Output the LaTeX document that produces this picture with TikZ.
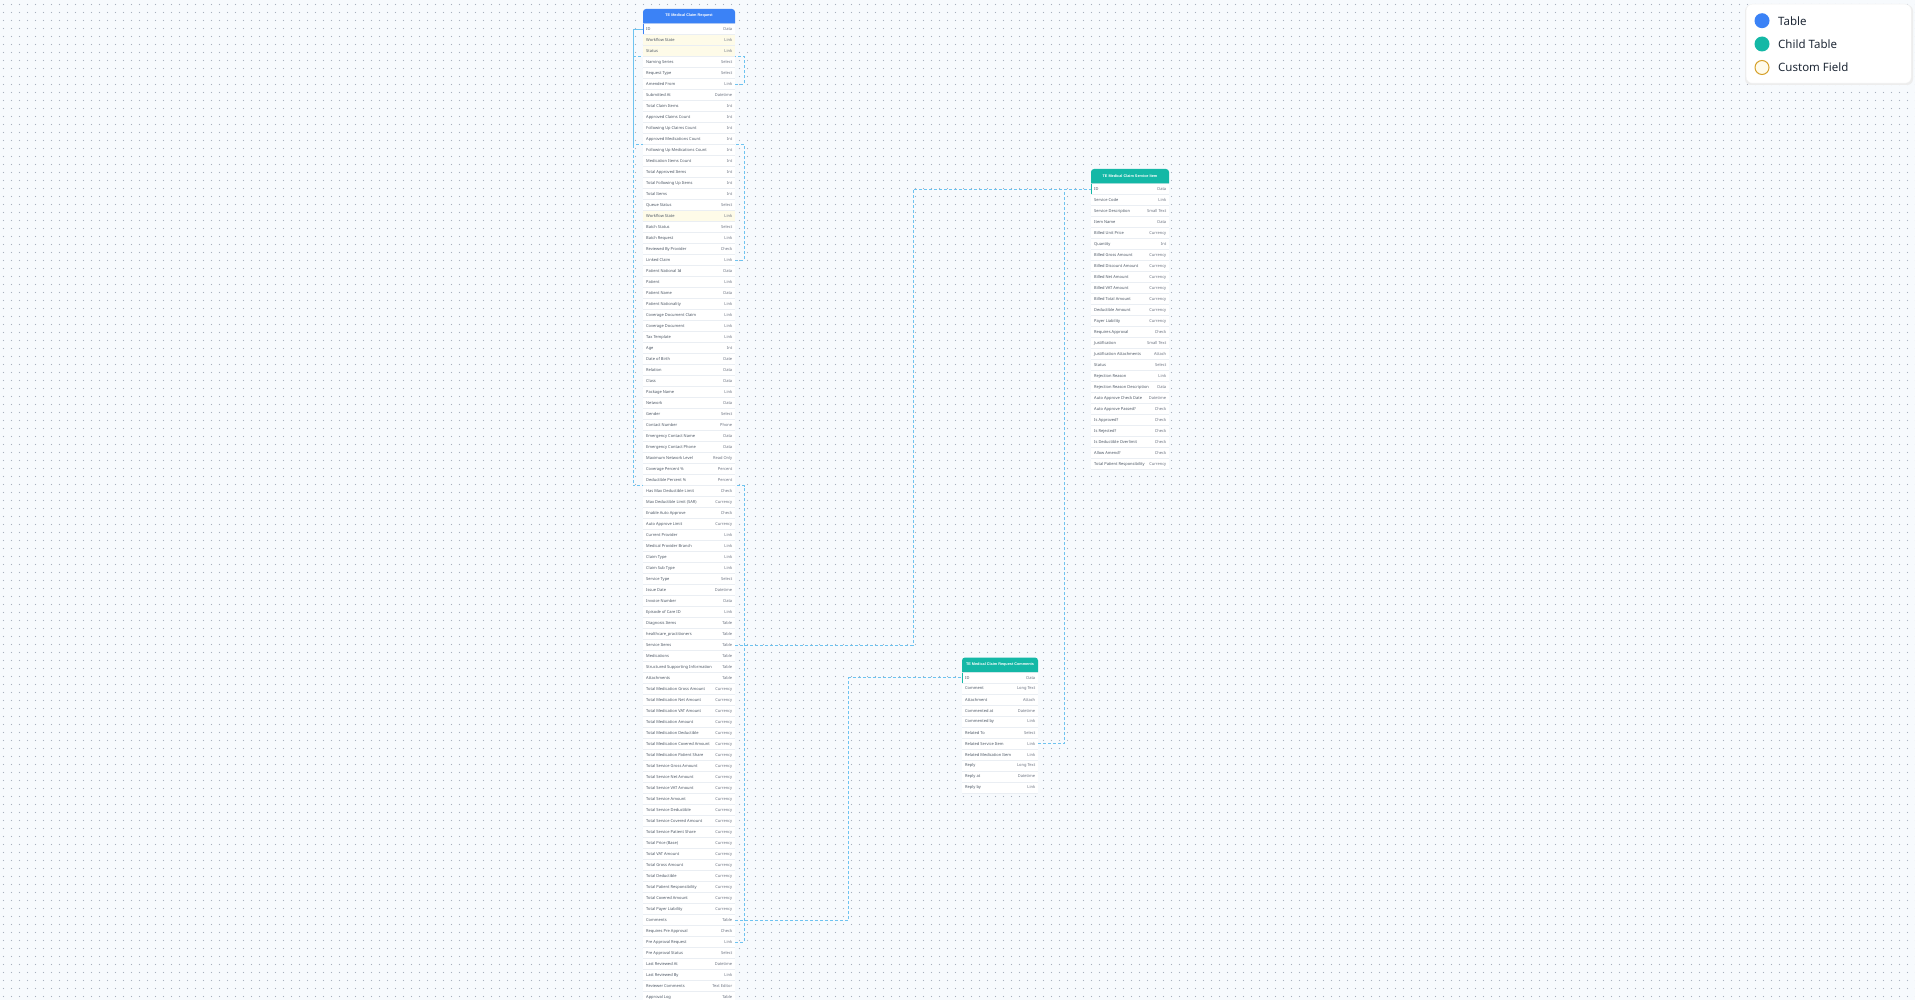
\documentclass[tikz,border=0pt]{standalone}
\usepackage{fontspec}
\setmainfont{Noto Sans}
\newfontfamily\hdrfont{Liberation Sans}
\usetikzlibrary{calc,patterns.meta}
\definecolor{bgcol}{RGB}{247,250,253}
\definecolor{dotcol}{RGB}{168,177,190}
\definecolor{tblue}{RGB}{59,130,246}
\definecolor{tteal}{RGB}{20,184,166}
\definecolor{hlrow}{RGB}{254,251,232}
\definecolor{sepcol}{RGB}{234,238,243}
\definecolor{namecol}{RGB}{75,85,99}
\definecolor{typecol}{RGB}{107,114,128}
\definecolor{edgecol}{RGB}{110,195,240}
\definecolor{amber}{RGB}{214,160,40}
\definecolor{cfill}{RGB}{255,251,235}
\definecolor{legtext}{RGB}{31,41,55}
\tikzdeclarepattern{name=rfdots, type=colored,
  bounding box={(0pt,0pt) and (7.5pt,7.5pt)}, tile size={(7.5pt,7.5pt)},
  code={\fill[dotcol] (3.75pt,3.75pt) circle (0.62pt);}}
\pgfdeclarelayer{bgl}
\pgfdeclarelayer{edgel}
\pgfsetlayers{bgl,edgel,main}
\tikzset{
  rowbox/.style={draw=none, inner xsep=3pt, inner ysep=0pt, minimum height=10pt,
    font=\fontsize{4.0}{5}\selectfont, text=namecol, anchor=north west},
  hdrtext/.style={inner sep=0pt, font=\hdrfont\fontsize{3.8}{5}\selectfont\bfseries, text=white},
  edge/.style={draw=edgecol, line width=0.9pt, dash pattern=on 3pt off 2pt},
  legdot/.style={circle, minimum size=15pt, inner sep=0pt},
  legtxt/.style={anchor=west, inner sep=0pt, font=\fontsize{11.5}{13}\selectfont, text=legtext}
}
% #1 prefix, #2 x, #3 y0, #4 width, #5 count, #6 header colour, #7 title, #8 list
\newcommand\drawerdtable[8]{%
  \fill[sepcol] (#2,{#3+14}) rectangle ({#2+#4},{#3+15+#5*11});
  \fill[#6] (#2,{#3+14.5}) [rounded corners=3pt] -- (#2,#3) -- ({#2+#4},#3) [sharp corners] -- ({#2+#4},{#3+14.5}) -- cycle;
  \node[hdrtext] (#1h) at ({#2+#4/2},{#3+7}) {#7};
  \foreach \fname/\ftype [count=\i] in {#8} {
    \def\rowfill{white}%
    \if m#1
      \ifnum\i=2 \def\rowfill{hlrow}\fi
      \ifnum\i=3 \def\rowfill{hlrow}\fi
      \ifnum\i=18 \def\rowfill{hlrow}\fi
    \fi
    \node[rowbox, minimum width=#4pt, fill=\rowfill] (#1\i) at (#2,{#3+15+(\i-1)*11})
      {\hbox to \dimexpr#4pt-6pt\relax{\fname\hfill\textcolor{typecol}{\ftype}}};
  }
  \draw[#6, line width=1pt] ($(#11.north west)+(0.5,0)$) -- ($(#11.south west)+(0.5,0)$);
}
\begin{document}
\begin{tikzpicture}[x=1pt,y=-1pt]
\useasboundingbox (0,0) rectangle (1915,1000);
\begin{pgfonlayer}{bgl}
  \fill[bgcol] (0,0) rectangle (1915,1000);
  \fill[pattern=rfdots] (0,0) rectangle (1915,1000);
\end{pgfonlayer}

% main table
\drawerdtable{m}{643}{9}{92}{89}{tblue}{TE Medical Claim Request}{ID/Data, Workflow State/Link, Status/Link, Naming Series/Select, Request Type/Select, Amended From/Link, Submitted At/Datetime, Total Claim Items/Int, Approved Claims Count/Int, Following Up Claims Count/Int, Approved Medications Count/Int, Following Up Medications Count/Int, Medication Items Count/Int, Total Approved Items/Int, Total Following Up Items/Int, Total Items/Int, Queue Status/Select, Workflow State/Link, Batch Status/Select, Batch Request/Link, Reviewed By Provider/Check, Linked Claim/Link, Patient National Id/Data, Patient/Link, Patient Name/Data, Patient Nationality/Link, Coverage Document Claim/Link, Coverage Document/Link, Tax Template/Link, Age/Int, Date of Birth/Date, Relation/Data, Class/Data, Package Name/Link, Network/Data, Gender/Select, Contact Number/Phone, Emergency Contact Name/Data, Emergency Contact Phone/Data, Maximum Network Level/Read Only, Coverage Percent \%/Percent, Deductible Percent \%/Percent, Has Max Deductible Limit/Check, Max Deductible Limit (SAR)/Currency, Enable Auto Approve/Check, Auto Approve Limit/Currency, Current Provider/Link, Medical Provider Branch/Link, Claim Type/Link, Claim Sub Type/Link, Service Type/Select, Issue Date/Datetime, Invoice Number/Data, Episode of Care ID/Link, Diagnosis Items/Table, healthcare\_practitioners/Table, Service Items/Table, Medications/Table, Structured Supporting Information/Table, Attachments/Table, Total Medication Gross Amount/Currency, Total Medication Net Amount/Currency, Total Medication VAT Amount/Currency, Total Medication Amount/Currency, Total Medication Deductible/Currency, Total Medication Covered Amount/Currency, Total Medication Patient Share/Currency, Total Service Gross Amount/Currency, Total Service Net Amount/Currency, Total Service VAT Amount/Currency, Total Service Amount/Currency, Total Service Deductible/Currency, Total Service Covered Amount/Currency, Total Service Patient Share/Currency, Total Price (Base)/Currency, Total VAT Amount/Currency, Total Gross Amount/Currency, Total Deductible/Currency, Total Patient Responsibility/Currency, Total Covered Amount/Currency, Total Payer Liability/Currency, Comments/Table, Requires Pre Approval/Check, Pre Approval Request/Link, Pre Approval Status/Select, Last Reviewed At/Datetime, Last Reviewed By/Link, Reviewer Comments/Text Editor, Approval Log/Table}

% service item child table
\drawerdtable{s}{1091}{169}{78}{26}{tteal}{TE Medical Claim Service Item}{ID/Data, Service Code/Link, Service Description/Small Text, Item Name/Data, Billed Unit Price/Currency, Quantity/Int, Billed Gross Amount/Currency, Billed Discount Amount/Currency, Billed Net Amount/Currency, Billed VAT Amount/Currency, Billed Total Amount/Currency, Deductible Amount/Currency, Payer Liability/Currency, Requires Approval/Check, Justification/Small Text, Justification Attachments/Attach, Status/Select, Rejection Reason/Link, Rejection Reason Description/Data, Auto Approve Check Date/Datetime, Auto Approve Passed?/Check, Is Approved?/Check, Is Rejected?/Check, Is Deductible Overlimit/Check, Allow Amend?/Check, Total Patient Responsibility/Currency}

% comments child table
\drawerdtable{c}{962}{657.5}{76}{11}{tteal}{TE Medical Claim Request Comments}{ID/Data, Comment/Long Text, Attachment/Attach, Commented at/Datetime, Commented by/Link, Related To/Select, Related Service Item/Link, Related Medication Item/Link, Reply/Long Text, Reply at/Datetime, Reply by/Link}

% connectors
\begin{pgfonlayer}{edgel}
  \foreach \k in {6,22,84} {
    \draw[edge] (m\k.east) -- ++(9,0) |- ($(m1.west)!0.5!(m\k.west)+(-10,0)$) |- (m1.west);
  }
  \draw[edge] (m57.east) -| ($(m57.east)!0.5!(s1.west)$) |- (s1.west);
  \draw[edge] (m82.east) -| ($(m82.east)!0.5!(c1.west)$) |- (c1.west);
  \draw[edge] (c7.east) -| ($(c7.east)!0.5!(s1.west)$) |- (s1.west);
\end{pgfonlayer}

% legend
\fill[black!7, rounded corners=6pt] (1745,5) rectangle (1913,85);
\node[draw=black!5, fill=white, rounded corners=6pt, minimum width=165pt, minimum height=79pt, anchor=north west, inner sep=0pt] (leg) at (1746,4) {};
\node[legdot, fill=tblue] (lc1) at (1762,20.7) {};
\node[legdot, fill=tteal] (lc2) at (1762,44) {};
\node[legdot, fill=cfill, draw=amber, line width=1pt, minimum size=14pt] (lc3) at (1762,67.5) {};
\node[legtxt] (lt1) at (1778,20.7) {Table};
\node[legtxt] (lt2) at (1778,44) {Child Table};
\node[legtxt] (lt3) at (1778,67.5) {Custom Field};
\end{tikzpicture}
\end{document}
